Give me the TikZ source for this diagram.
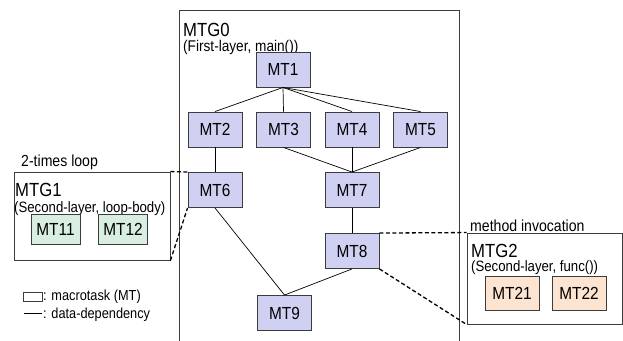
\documentclass[tikz,border=0pt]{standalone}
\usepackage{fontspec}
\setmainfont{Liberation Sans}[FakeStretch=0.88]
\definecolor{mtblue}{RGB}{208,208,242}
\definecolor{mtgreen}{RGB}{216,238,224}
\definecolor{mtpeach}{RGB}{252,228,208}
\definecolor{frame}{RGB}{60,60,60}
\begin{document}
\begin{tikzpicture}[x=1pt,y=-1pt,
  mt/.style={draw=frame,line width=0.9pt,fill=mtblue,minimum width=54pt,minimum height=35pt,inner sep=0pt,font=\fontsize{17.5}{17.5}\selectfont},
  mtg/.style={mt,fill=mtgreen,minimum width=49pt,minimum height=30pt},
  mtp/.style={mt,fill=mtpeach,minimum width=54pt,minimum height=34pt},
  dep/.style={draw=black,line width=0.7pt},
  inv/.style={draw=black,line width=1.3pt,dash pattern=on 4pt off 2.5pt},
  box/.style={draw=frame,line width=0.9pt},
  big/.style={font=\fontsize{19}{19}\selectfont,anchor=base west,inner sep=0pt},
  small/.style={font=\fontsize{15}{15}\selectfont,anchor=base west,inner sep=0pt},
  lbl/.style={font=\fontsize{16}{16}\selectfont,anchor=base west,inner sep=0pt},
  leg/.style={font=\fontsize{14.5}{14.5}\selectfont,anchor=base west,inner sep=0pt}]
\useasboundingbox (0,0) rectangle (623,340);
% MTG0 frame (open at bottom)
\draw[box] (179,345) -- (179,10) -- (459,10) -- (459,345);
\node[big] (g0) at (183,36) {MTG0};
\node[small,font=\fontsize{15.5}{15.5}\selectfont] (g0s) at (183,51) {(First-layer, main())};
% MT nodes
\node[mt] (mt1) at (283,69.5) {MT1};
\node[mt] (mt2) at (215,129.5) {MT2};
\node[mt] (mt3) at (283.5,129.5) {MT3};
\node[mt] (mt4) at (352,129.5) {MT4};
\node[mt] (mt5) at (420.5,129.5) {MT5};
\node[mt] (mt6) at (215,190) {MT6};
\node[mt] (mt7) at (352,190) {MT7};
\node[mt] (mt8) at (352,251) {MT8};
\node[mt] (mt9) at (284.5,313) {MT9};
% dependencies
\draw[dep] (mt1.south) -- (mt2.north);
\draw[dep] (mt1.south) -- (mt3.north);
\draw[dep] (mt1.south) -- (mt4.north);
\draw[dep] (mt1.south) -- (mt5.north);
\draw[dep] (mt2.south) -- (mt6.north);
\draw[dep] (mt3.south) -- (mt7.north);
\draw[dep] (mt4.south) -- (mt7.north);
\draw[dep] (mt5.south) -- (mt7.north);
\draw[dep] (mt7.south) -- (mt8.north);
\draw[dep] (mt6.south) -- (mt9.north);
\draw[dep] (mt8.south) -- (mt9.north);
% MTG1
\node[draw=frame,line width=0.9pt,minimum width=156pt,minimum height=88pt,inner sep=0pt] (g1) at (92,216) {};
\node[lbl] (loop) at (21,166) {2-times loop};
\node[big] (g1t) at (15,196.5) {MTG1};
\node[small] (g1s) at (14,212) {(Second-layer, loop-body)};
\node[mtg] (mt11) at (55.5,229) {MT11};
\node[mtg] (mt12) at (123,229) {MT12};
\draw[inv] (g1.north east) -- (mt6.north west);
\draw[inv] (g1.south east) -- (mt6.south west);
% MTG2
\node[draw=frame,line width=0.9pt,minimum width=155pt,minimum height=91pt,inner sep=0pt] (g2) at (544.5,278.5) {};
\node[lbl] (meth) at (470,231) {method invocation};
\node[big] (g2t) at (471,257) {MTG2};
\node[small] (g2s) at (471,271.5) {(Second-layer, func())};
\node[mtp] (mt21) at (512,293) {MT21};
\node[mtp] (mt22) at (579,293) {MT22};
\draw[inv] (mt8.north east) -- (g2.north west);
\draw[inv] (mt8.south east) -- (g2.south west);
% legend
\node[draw=frame,line width=0.7pt,minimum width=19pt,minimum height=9pt,inner sep=0pt] (lbox) at (32.5,296.5) {};
\node[leg] (ltext1) at (43,300.5) {: macrotask (MT)};
\coordinate (la) at (24,313);
\coordinate (lb) at (42,313);
\draw[dep] (la) -- (lb);
\node[leg] (ltext2) at (43,318) {: data-dependency};
\end{tikzpicture}
\end{document}
